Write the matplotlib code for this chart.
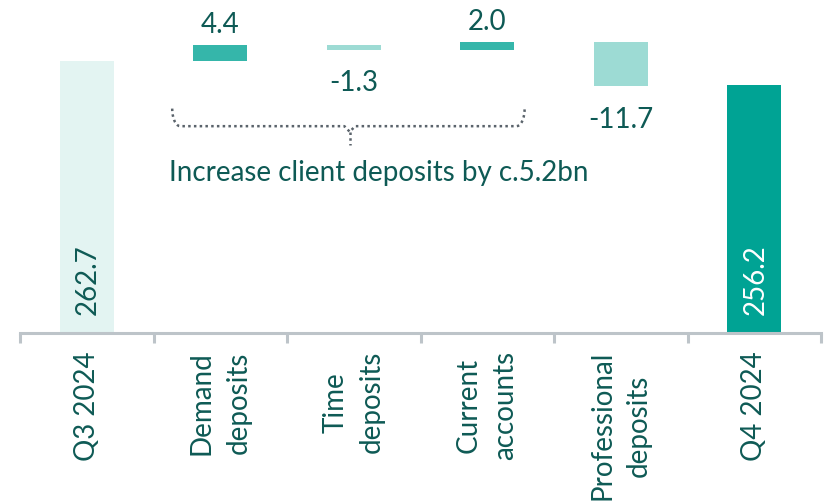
import matplotlib.pyplot as plt
import numpy as np

plt.rcParams['font.family'] = ['Lato', 'DejaVu Sans']

# données
categories = ['Q3 2024', 'Demand\ndeposits', 'Time\ndeposits', 'Current\naccounts',
              'Professional\ndeposits', 'Q4 2024']
start_value = 262.7
changes = [4.4, -1.3, 2.0, -11.7]
end_value = 256.2
change_labels = ['4.4', '-1.3', '2.0', '-11.7']
total_labels = ['262.7', '256.2']
note_text = 'Increase client deposits by c.5.2bn'

text_col = '#0E5A55'
col_start = '#E3F4F2'
col_up = '#35B6AA'
col_down = '#9DDBD4'
col_end = '#00A394'
axis_col = '#BDC4C9'
fs = 20

fig = plt.figure(figsize=(8.24, 5.04), dpi=100)
ax = fig.add_axes([20 / 824, 1 - 333 / 504, 801 / 824, 333 / 504])
ymin = 190
ax.set_ylim(ymin, ymin + 333 / 3.74)
ax.set_xlim(-0.5, 5.5)

x = np.arange(len(categories))
w = 0.405

# barres totales
ax.bar(x[0], start_value - ymin, bottom=ymin, width=w, color=col_start)
ax.bar(x[-1], end_value - ymin, bottom=ymin, width=w, color=col_end)

# barres de variation
level = start_value
for i, (c, lab) in enumerate(zip(changes, change_labels)):
    xi = x[i + 1]
    col = col_up if c > 0 else col_down
    ax.bar(xi, c, bottom=level, width=w, color=col)
    if c > 0:
        ax.annotate(lab, (xi, level + c), xytext=(0, 5), textcoords='offset points',
                    ha='center', va='bottom', fontsize=fs, color=text_col)
    else:
        ax.annotate(lab, (xi, level + c), xytext=(0, -15), textcoords='offset points',
                    ha='center', va='top', fontsize=fs, color=text_col)
    level += c

# valeurs dans les barres totales
ax.annotate(total_labels[0], (x[0], ymin), xytext=(1, 13), textcoords='offset points',
            rotation=90, ha='center', va='bottom', fontsize=fs, color=text_col)
ax.annotate(total_labels[1], (x[-1], ymin), xytext=(1, 13), textcoords='offset points',
            rotation=90, ha='center', va='bottom', fontsize=fs, color='white')

# accolade pointillée
bx0, bx1, bxm = 0.64, 3.28, 1.97
by_top, by_mid, by_tip = 250.0, 245.3, 240.3
t = np.linspace(0, np.pi / 2, 10)
r = 0.06
left_curve_x = bx0 + r * (1 - np.cos(t))
left_curve_y = by_mid + (by_top - by_mid) * (1 - np.sin(t))
brace_x = np.concatenate([[bx0], left_curve_x, [bxm - 0.04, bxm, bxm + 0.04],
                          (bx1 - r * (1 - np.cos(t)))[::-1], [bx1]])
brace_y = np.concatenate([[by_top], left_curve_y, [by_mid, by_mid - 1.5, by_mid],
                          left_curve_y[::-1], [by_top]])
ax.plot(brace_x, brace_y, color='#5A636B', lw=1.8, ls=(0, (1, 1.3)))
ax.plot([bxm, bxm], [by_mid - 1.5, by_tip], color='#5A636B', lw=1.8, ls=(0, (1, 1.3)))

ax.text(2.19, 232.8, note_text, ha='center', va='center', fontsize=fs, color=text_col)

# axes
for s in ['top', 'right', 'left']:
    ax.spines[s].set_visible(False)
ax.spines['bottom'].set_color(axis_col)
ax.spines['bottom'].set_linewidth(2.2)
ax.set_yticks([])
ax.set_xticks(x)
ax.set_xticklabels(categories, rotation=90, ha='center', va='top',
                   multialignment='center', fontsize=fs, color=text_col, linespacing=1.5)
ax.tick_params(axis='x', which='major', length=0, pad=13)
ax.set_xticks(np.arange(-0.5, 6, 1), minor=True)
ax.tick_params(axis='x', which='minor', length=7, width=2.2, color=axis_col)

fig.savefig('out.png', dpi=100)
